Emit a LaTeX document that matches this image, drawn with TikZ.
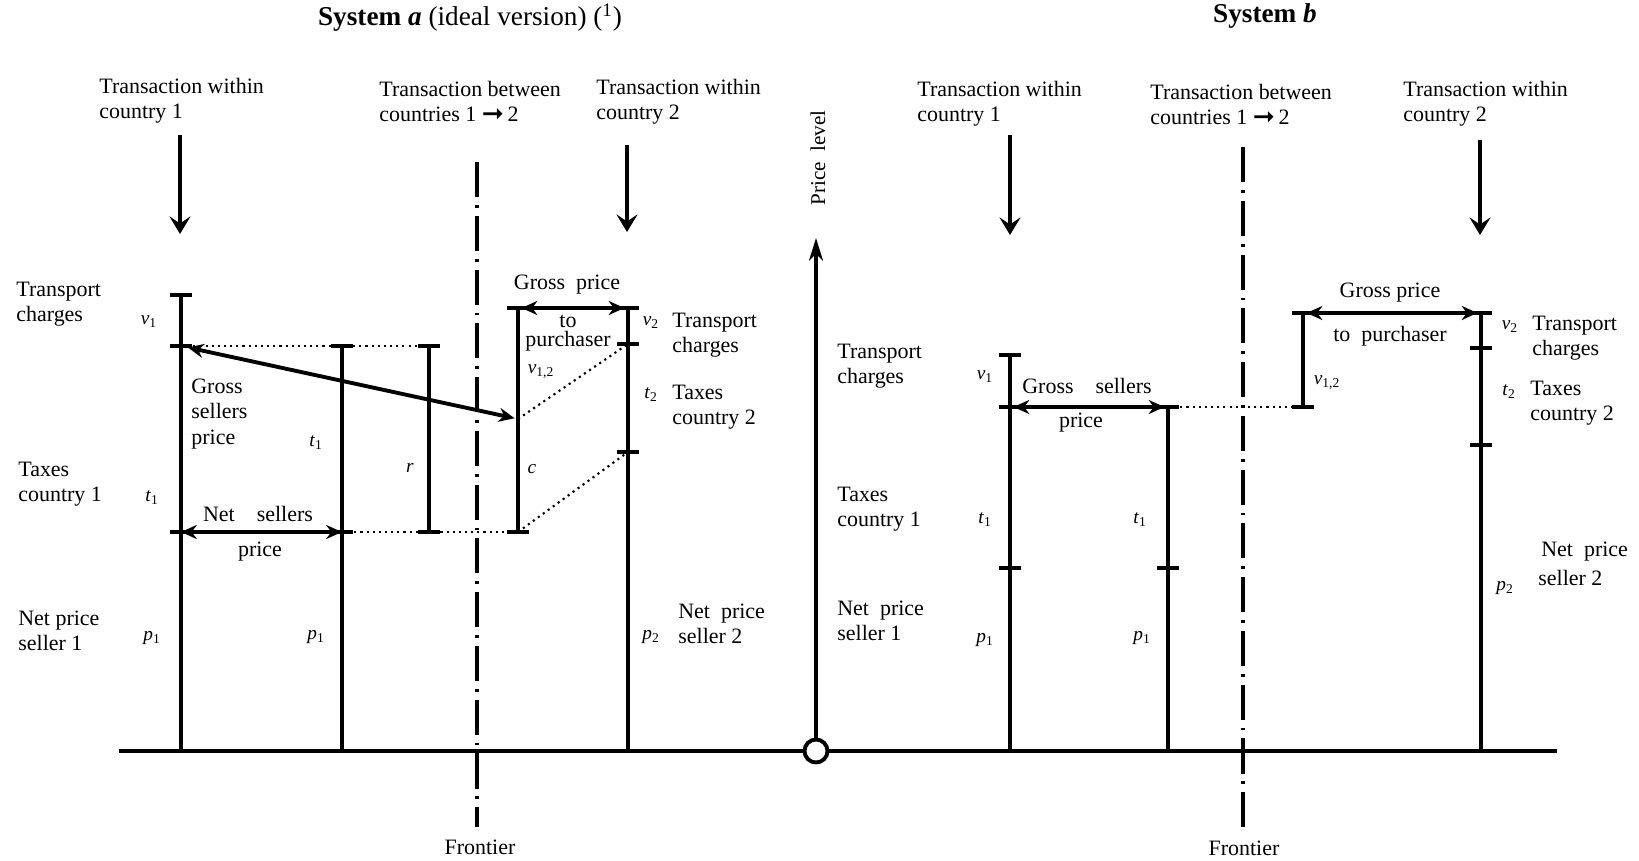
\documentclass[tikz,border=0pt]{standalone}
\usepackage{fontspec}
\setmainfont{Liberation Serif}
\newfontfamily\arrowfont{DejaVu Sans}
\usetikzlibrary{arrows.meta,calc,positioning}
\tikzset{>=Stealth,
  every node/.style={font=\fontsize{12.5}{14.5}\selectfont,inner sep=0pt},
  bar/.style={line width=2pt},
  tickbar/.style={line width=2.3pt},
  baseaxis/.style={line width=2.4pt},
  guide/.style={line width=1.2pt,dash pattern=on 1.2pt off 2.3pt},
  span/.style={{Stealth[length=9pt,width=8pt]}-{Stealth[length=9pt,width=8pt]},line width=2.2pt},
  drop/.style={-{Stealth[length=10pt,width=12pt,inset=4pt]},line width=2.2pt},
  frontier/.style={line width=2.2pt,dash pattern=on 20pt off 4.5pt on 1.6pt off 4.5pt},
  txt/.style={align=left,anchor=west},
  sym/.style={font=\fontsize{11}{12}\selectfont},
  title/.style={font=\fontsize{15.5}{18}\selectfont}}
\newcommand{\vsub}[2]{\textit{#1}\textsubscript{#2}}
\newcommand{\toarrow}{\raisebox{-0.5pt}{\arrowfont\fontsize{15}{15}\selectfont ➞}}

\begin{document}
\begin{tikzpicture}[x=0.02cm,y=-0.02cm]
\useasboundingbox (0,0) rectangle (1639,861);

% price axis and base line
\node[circle,draw,line width=2.2pt,fill=white,minimum size=0.46cm] (o) at (816,751) {};
\coordinate (bl) at (119,751);
\coordinate (br) at (1557,751);
\coordinate (ptip) at (816,238);
\draw[baseaxis] (bl) -- (o.west);
\draw[baseaxis] (o.east) -- (br);
\draw[-{Stealth[length=13pt,width=8pt,inset=4pt]},line width=2pt] (o.north) -- (ptip);
\node[rotate=90,font=\fontsize{12}{14}\selectfont] (plev) at (818,158) {Price\ \ level};

% bars: name/x/top/bottom
\foreach \n/\x/\top/\bot in {a1/181/295/751,a2/342/346/751,ar/429/346/532,ac/518/308/532,a3/628/308/751,
  b1/1010/355/751,b2/1168/407/751,bv/1303/313/407,b3/1481/313/751}{
  \coordinate (\n-top) at (\x,\top);
  \coordinate (\n-bot) at (\x,\bot);
  \draw[bar] (\n-top) -- (\n-bot);
}
\foreach \x/\y in {181/295,181/346,181/532,342/346,342/532,429/346,429/532,518/308,518/532,
  628/308,628/344,628/452,1010/355,1010/407,1010/568,1168/407,1168/568,1303/313,1303/407,
  1481/313,1481/348,1481/445}
  \draw[tickbar] (\x-11,\y) -- (\x+11,\y);

% frontiers
\coordinate (fa-top) at (477,162);
\coordinate (fa-bot) at (477,827);
\coordinate (fb-top) at (1243,147);
\coordinate (fb-bot) at (1243,827);
\draw[frontier] (fa-top) -- (fa-bot);
\draw[frontier] (fb-top) -- (fb-bot);
\node (fra) at (480,847) {Frontier};
\node (frb) at (1244,848) {Frontier};

% System a
\node[title] (titlea) at (470,18) {\textbf{System \textit{a}} (ideal version) (\textsuperscript{1})};
\node[txt] (tra1) at (99,101) {Transaction within\\country 1};
\node[txt] (tra2) at (379,102) {Transaction between\\countries 1 \toarrow\,2};
\node[txt] (tra3) at (596,102) {Transaction within\\country 2};
\coordinate (da1) at (180,135);
\coordinate (da1e) at (180,234);
\coordinate (da3) at (627,145);
\coordinate (da3e) at (627,232);
\draw[drop] (da1) -- (da1e);
\draw[drop] (da3) -- (da3e);

\coordinate (a1v) at (181,346);
\coordinate (a1t) at (181,532);
\coordinate (a2t) at (342,532);
\coordinate (acm) at (518,419);
\coordinate (a3v) at (628,344);
\coordinate (a3t) at (628,452);
\draw[guide] (a1v) -- (ar-top);
\draw[guide] (a2t) -- (ac-bot);
\draw[guide] (acm) -- (a3v);
\draw[guide] (ac-bot) -- (a3t);
\draw[span,shorten <=4pt,shorten >=2pt] (a1v) -- (acm);
\draw[span] (a1t) -- (a2t);
\draw[span,shorten <=2pt,shorten >=2pt] (ac-top) -- (a3-top);

\node[txt] (tca) at (16,304) {Transport\\charges};
\node[txt] (txa) at (18,484) {Taxes\\country 1};
\node[txt] (npa) at (18,631) {Net price\\seller 1};
\node[sym] (v1a) at (149,322) {\vsub{v}{1}};
\node[sym] (t1a) at (152,498) {\vsub{t}{1}};
\node[sym] (p1a) at (152,638) {\vsub{p}{1}};
\node[txt] (gsp) at (191,414) {Gross\\sellers\\price};
\node[sym] (t1a2) at (316,443) {\vsub{t}{1}};
\node[sym] (p1a2) at (316,637) {\vsub{p}{1}};
\node (nsa) at (258,514) {Net\quad sellers};
\node (nsp) at (260,552) {price};
\node[sym] (rlab) at (410,468) {\textit{r}};
\node[sym] (clab) at (532,469) {\textit{c}};
\node[sym] (v12a) at (541,372) {\vsub{v}{1,2}};
\node (gpa) at (567,285) {Gross\ \ price};
\node[align=center,font=\fontsize{12.5}{11}\selectfont] (gpto) at (568,333) {to\\purchaser};
\node[sym] (v2a) at (651,323) {\vsub{v}{2}};
\node[txt] (tc2a) at (672,335) {Transport\\charges};
\node[sym] (t2a) at (651,395) {\vsub{t}{2}};
\node[txt] (tx2a) at (672,407) {Taxes\\country 2};
\node[txt] (np2a) at (678,624) {Net\ \ price\\seller 2};
\node[sym] (p2a) at (651,637) {\vsub{p}{2}};

% System b
\node[title] (titleb) at (1265,16) {\textbf{System \textit{b}}};
\node[txt] (trb1) at (917,104) {Transaction within\\country 1};
\node[txt] (trb2) at (1150,105) {Transaction between\\countries 1 \toarrow\,2};
\node[txt] (trb3) at (1403,104) {Transaction within\\country 2};
\coordinate (db1) at (1010,135);
\coordinate (db1e) at (1010,235);
\coordinate (db3) at (1480,140);
\coordinate (db3e) at (1480,235);
\draw[drop] (db1) -- (db1e);
\draw[drop] (db3) -- (db3e);

\coordinate (b1v) at (1010,407);
\draw[guide] (b2-top) -- (bv-bot);
\draw[span,shorten <=2pt,shorten >=2pt] (b1v) -- (b2-top);
\draw[span,shorten <=2pt,shorten >=2pt] (bv-top) -- (b3-top);

\node[txt] (tcb) at (837,366) {Transport\\charges};
\node[txt] (txb) at (837,509) {Taxes\\country 1};
\node[txt] (npb) at (837,621) {Net\ \ price\\seller 1};
\node[sym] (v1b) at (985,377) {\vsub{v}{1}};
\node[sym] (t1b) at (985,520) {\vsub{t}{1}};
\node[sym] (p1b) at (985,640) {\vsub{p}{1}};
\node (gsb) at (1087,386) {Gross\quad sellers};
\node (gsbp) at (1081,423) {price};
\node[sym] (t1b2) at (1140,520) {\vsub{t}{1}};
\node[sym] (p1b2) at (1142,638) {\vsub{p}{1}};
\node[sym] (v12b) at (1327,383) {\vsub{v}{1,2}};
\node (gpb) at (1390,293) {Gross price};
\node (gpbt) at (1390,336) {to\ \ purchaser};
\node[sym] (v2b) at (1510,327) {\vsub{v}{2}};
\node[txt] (tc2b) at (1532,338) {Transport\\charges};
\node[sym] (t2b) at (1509,392) {\vsub{t}{2}};
\node[txt] (tx2b) at (1530,403) {Taxes\\country 2};
\node[txt] (np2b) at (1541,552) {Net\ \ price};
\node[txt] (s2b) at (1538,578) {seller 2};
\node[sym] (p2b) at (1505,588) {\vsub{p}{2}};
\end{tikzpicture}
\end{document}
